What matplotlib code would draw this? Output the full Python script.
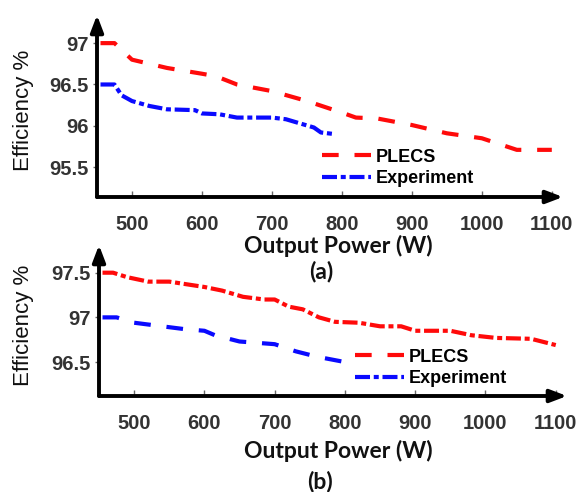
import matplotlib
matplotlib.use("Agg")
import matplotlib.pyplot as plt
from matplotlib.lines import Line2D

# (a) efficiency vs output power
a_plecs_p = [455, 475, 500, 550, 600, 620, 650, 700, 750, 800, 820, 850, 900, 950, 1000, 1050, 1100]
a_plecs_eff = [97.0, 97.0, 96.8, 96.7, 96.63, 96.6, 96.5, 96.42, 96.3, 96.16, 96.1, 96.09, 96.01, 95.91, 95.85, 95.71, 95.71]
a_exp_p = [455, 475, 485, 500, 525, 550, 590, 600, 625, 650, 700, 720, 740, 760, 770, 790]
a_exp_eff = [96.5, 96.5, 96.37, 96.3, 96.24, 96.2, 96.19, 96.15, 96.14, 96.1, 96.1, 96.08, 96.03, 95.98, 95.92, 95.9]

# (b)
b_plecs_p = [455, 470, 490, 520, 550, 575, 600, 625, 655, 685, 700, 720, 740, 763, 786, 820, 850, 880, 900, 950, 980, 1015, 1065, 1100]
b_plecs_eff = [97.5, 97.5, 97.45, 97.4, 97.4, 97.37, 97.34, 97.3, 97.23, 97.2, 97.2, 97.12, 97.09, 97.0, 96.95, 96.94, 96.9, 96.9, 96.85, 96.85, 96.8, 96.77, 96.76, 96.69]
b_exp_p = [455, 475, 500, 540, 570, 600, 615, 650, 700, 730, 760, 800]
b_exp_eff = [97.0, 97.0, 96.94, 96.9, 96.87, 96.85, 96.8, 96.73, 96.7, 96.62, 96.56, 96.5]

xticks = [500, 600, 700, 800, 900, 1000, 1100]
a_yticks = [95.5, 96, 96.5, 97]
b_yticks = [96.5, 97, 97.5]

RED = "#ff0a0a"
BLUE = "#0a0aff"
DASH = (0, (4, 3.8))
DASHDOT = (0, (3.6, 0.9, 1.2, 0.9))
tick_font = dict(family="Liberation Sans", weight="bold", size=14.5, color="#333333")
lab_font = dict(family="Lato", weight="bold", size=16.5, color="#111111")

fig = plt.figure(figsize=(5.79, 4.92), dpi=100)
W, H = 579, 492


def setup(ax, yticks, ylim):
    ax.set_xlim(450, 1116)
    ax.set_ylim(*ylim)
    for s in ax.spines.values():
        s.set_visible(False)
    ax.set_xticks(xticks)
    ax.set_yticks(yticks)
    ax.set_xticklabels([str(t) for t in xticks], fontdict=tick_font)
    ax.set_yticklabels([f"{t:g}" for t in yticks], fontdict=tick_font)
    ax.tick_params(axis="x", direction="in", length=4, width=1, color="#666666", pad=13)
    ax.tick_params(axis="y", direction="out", length=3, width=1, color="#666666", pad=3)
    arrow = dict(arrowstyle="-|>,head_length=1.0,head_width=0.38", lw=2.8, color="black",
                 shrinkA=0, shrinkB=0)
    ax.annotate("", xy=(1, 0), xytext=(0, 0), xycoords="axes fraction", arrowprops=arrow)
    ax.annotate("", xy=(0, 1), xytext=(0, 0), xycoords="axes fraction", arrowprops=arrow)
    ax.patch.set_visible(False)


# top panel
ax1 = fig.add_axes([97 / W, 1 - 197 / H, (563 - 97) / W, (197 - 15) / H])
setup(ax1, a_yticks, (95.14, 97.34))
ax1.plot(a_plecs_p, a_plecs_eff, color=RED, lw=3, linestyle=DASH)
ax1.plot(a_exp_p, a_exp_eff, color=BLUE, lw=3, linestyle=DASHDOT)

# bottom panel
ax2 = fig.add_axes([99 / W, 1 - 396 / H, (567 - 99) / W, (396 - 245) / H])
setup(ax2, b_yticks, (96.12, 97.81))
ax2.plot(b_plecs_p, b_plecs_eff, color=RED, lw=3, linestyle=DASHDOT)
ax2.plot(b_exp_p, b_exp_eff, color=BLUE, lw=3, linestyle=DASH)

handles = [Line2D([], [], color=RED, lw=3, linestyle=DASH),
           Line2D([], [], color=BLUE, lw=3, linestyle=DASHDOT)]
labels = ["PLECS", "Experiment"]
leg_kw = dict(frameon=False, loc="center left", handlelength=2.7, handletextpad=0.3,
              labelspacing=0.25, borderpad=0, borderaxespad=0,
              prop=dict(family="Liberation Sans", weight="bold", size=13),
              bbox_transform=fig.transFigure)
ax1.legend(handles, labels, bbox_to_anchor=(322 / W, 1 - 168 / H), **leg_kw)
ax2.legend(handles, labels, bbox_to_anchor=(355 / W, 1 - 368 / H), **leg_kw)

# labels
for yc in (110, 325):
    fig.text(24 / W, 1 - yc / H, "Efficiency %", rotation=90, ha="center", va="center",
             family="Liberation Sans", size=16, color="#111111")
fig.text(338 / W, 1 - 246 / H, "Output Power (W)", ha="center", va="center", **lab_font)
fig.text(321 / W, 1 - 271 / H, "(a)", ha="center", va="center", **lab_font)
fig.text(338 / W, 1 - 451 / H, "Output Power (W)", ha="center", va="center", **lab_font)
fig.text(320 / W, 1 - 481 / H, "(b)", ha="center", va="center", **lab_font)

fig.savefig("out.png", dpi=100)
